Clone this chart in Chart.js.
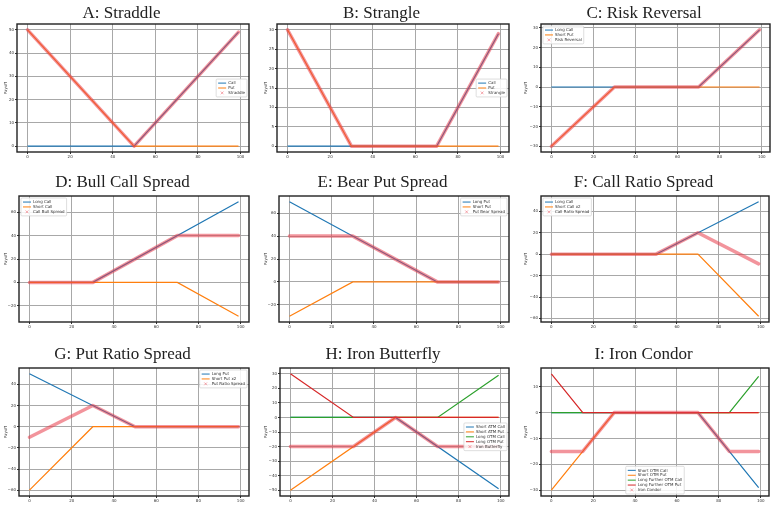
<!DOCTYPE html>
<html>
<head>
<meta charset="utf-8">
<script src="https://cdn.jsdelivr.net/npm/chart.js@4.4.1/dist/chart.umd.min.js"></script>
<style>
  html, body { margin: 0; padding: 0; background: #fff; }
  #page { position: relative; width: 780px; height: 516px; overflow: hidden; }
  #page canvas { position: absolute; }
</style>
</head>
<body>
<div id="page"></div>
<script>
/* Tick labels */
const xTicks = [0, 20, 40, 60, 80, 100];
const yTicksA = [0, 10, 20, 30, 40, 50];
const yTicksB = [0, 5, 10, 15, 20, 25, 30];
const yTicksC = [-30, -20, -10, 0, 10, 20, 30];
const yTicksD = [-20, 0, 20, 40, 60];
const yTicksE = [-20, 0, 20, 40, 60];
const yTicksF = [-60, -40, -20, 0, 20, 40];
const yTicksG = [-60, -40, -20, 0, 20, 40];
const yTicksH = [-50, -40, -30, -20, -10, 0, 10, 20, 30];
const yTicksI = [-30, -20, -10, 0, 10];

/* Payoff lines, as [price, payoff] breakpoints */
// A: Straddle
const callA = [[0, 0], [50, 0], [99, 49]];
const putA = [[0, 50], [50, 0], [99, 0]];
const straddleA = [[0, 50], [50, 0], [99, 49]];
// B: Strangle
const callB = [[0, 0], [70, 0], [99, 29]];
const putB = [[0, 30], [30, 0], [99, 0]];
const strangleB = [[0, 30], [30, 0], [70, 0], [99, 29]];
// C: Risk Reversal
const longCallC = [[0, 0], [70, 0], [99, 29]];
const shortPutC = [[0, -30], [30, 0], [99, 0]];
const riskRevC = [[0, -30], [30, 0], [70, 0], [99, 29]];
// D: Bull Call Spread
const longCallD = [[0, 0], [30, 0], [99, 69]];
const shortCallD = [[0, 0], [70, 0], [99, -29]];
const bullD = [[0, 0], [30, 0], [70, 40], [99, 40]];
// E: Bear Put Spread
const longPutE = [[0, 70], [70, 0], [99, 0]];
const shortPutE = [[0, -30], [30, 0], [99, 0]];
const bearE = [[0, 40], [30, 40], [70, 0], [99, 0]];
// F: Call Ratio Spread
const longCallF = [[0, 0], [50, 0], [99, 49]];
const shortCallF = [[0, 0], [70, 0], [99, -58]];
const ratioF = [[0, 0], [50, 0], [70, 20], [99, -9]];
// G: Put Ratio Spread
const longPutG = [[0, 50], [50, 0], [99, 0]];
const shortPutG = [[0, -60], [30, 0], [99, 0]];
const ratioG = [[0, -10], [30, 20], [50, 0], [99, 0]];
// H: Iron Butterfly
const shortCallH = [[0, 0], [50, 0], [99, -49]];
const shortPutH = [[0, -50], [50, 0], [99, 0]];
const longCallH = [[0, 0], [70, 0], [99, 29]];
const longPutH = [[0, 30], [30, 0], [99, 0]];
const butterflyH = [[0, -20], [30, -20], [50, 0], [70, -20], [99, -20]];
// I: Iron Condor
const shortCallI = [[0, 0], [70, 0], [99, -29]];
const shortPutI = [[0, -30], [30, 0], [99, 0]];
const longCallI = [[0, 0], [85, 0], [99, 14]];
const longPutI = [[0, 15], [15, 0], [99, 0]];
const condorI = [[0, -15], [15, -15], [30, 0], [70, 0], [85, -15], [99, -15]];

const BLU = '#1f77b4', ORA = '#ff7f0e', GRN = '#2ca02c', RED = '#d62728';
const COMBO = 'rgba(232, 60, 74, 0.55)';

// righe della griglia: posizione verticale di ogni riga di grafici
const righe = [
    { top: 0,   plotTop: 24,  plotBottom: 152, bottom: 165, baseline: 18.3 },
    { top: 165, plotTop: 196, plotBottom: 322, bottom: 335, baseline: 187.3 },
    { top: 338, plotTop: 368, plotBottom: 496, bottom: 509, baseline: 359 }
];

const pannelli = [
    { title: 'A: Straddle', row: 0, col: 0, left: 17, right: 249, yTicks: yTicksA, legend: [1, 0.5],
      lines: [['Call', callA, BLU], ['Put', putA, ORA]], combo: ['Straddle', straddleA] },
    { title: 'B: Strangle', row: 0, col: 1, left: 277, right: 509, yTicks: yTicksB, legend: [1, 0.5],
      lines: [['Call', callB, BLU], ['Put', putB, ORA]], combo: ['Strangle', strangleB] },
    { title: 'C: Risk Reversal', row: 0, col: 2, left: 541, right: 770, yTicks: yTicksC, legend: [0, 0],
      lines: [['Long Call', longCallC, BLU], ['Short Put', shortPutC, ORA]], combo: ['Risk Reversal', riskRevC] },
    { title: 'D: Bull Call Spread', row: 1, col: 0, left: 19, right: 249, yTicks: yTicksD, legend: [0, 0],
      lines: [['Long Call', longCallD, BLU], ['Short Call', shortCallD, ORA]], combo: ['Call Bull Spread', bullD] },
    { title: 'E: Bear Put Spread', row: 1, col: 1, left: 279, right: 509, yTicks: yTicksE, legend: [1, 0],
      lines: [['Long Put', longPutE, BLU], ['Short Put', shortPutE, ORA]], combo: ['Put Bear Spread', bearE] },
    { title: 'F: Call Ratio Spread', row: 1, col: 2, left: 541, right: 769, yTicks: yTicksF, legend: [0, 0],
      lines: [['Long Call', longCallF, BLU], ['Short Call x2', shortCallF, ORA]], combo: ['Call Ratio Spread', ratioF] },
    { title: 'G: Put Ratio Spread', row: 2, col: 0, left: 19, right: 249, yTicks: yTicksG, legend: [1, 0],
      lines: [['Long Put', longPutG, BLU], ['Short Put x2', shortPutG, ORA]], combo: ['Put Ratio Spread', ratioG] },
    { title: 'H: Iron Butterfly', row: 2, col: 1, left: 280, right: 509, yTicks: yTicksH, legend: [1, 0.55],
      lines: [['Short ATM Call', shortCallH, BLU], ['Short ATM Put', shortPutH, ORA],
              ['Long OTM Call', longCallH, GRN], ['Long OTM Put', longPutH, RED]], combo: ['Iron Butterfly', butterflyH] },
    { title: 'I: Iron Condor', row: 2, col: 2, left: 541, right: 769, yTicks: yTicksI, legend: [0.5, 1],
      lines: [['Short OTM Call', shortCallI, BLU], ['Short OTM Put', shortPutI, ORA],
              ['Long Further OTM Call', longCallI, GRN], ['Long Further OTM Put', longPutI, RED]], combo: ['Iron Condor', condorI] }
];

const fmtMeno = (v) => (v < 0 ? '\u2212' + Math.abs(v) : String(v));

// cornice nera attorno all'area del grafico + legenda stile matplotlib + titolo
const pluginCornice = {
    id: 'cornice',
    afterDatasetsDraw(chart, args, opts) {
        const { ctx, chartArea: a } = chart;
        ctx.save();
        ctx.strokeStyle = '#222';
        ctx.lineWidth = 1.4;
        ctx.strokeRect(a.left, a.top, a.right - a.left, a.bottom - a.top);

        // legenda
        const fs = 4, rowH = 4.9, padX = 2, padY = 1.6, handle = 8, gap = 2, axPad = 2;
        ctx.font = fs + 'px "DejaVu Sans"';
        const items = chart.data.datasets;
        const textW = Math.max(...items.map(d => ctx.measureText(d.label).width));
        const w = padX + handle + gap + textW + padX;
        const h = padY * 2 + rowH * items.length;
        const [fx, fy] = opts.loc;
        const x = a.left + axPad + fx * (a.right - a.left - 2 * axPad - w);
        const y = a.top + axPad + fy * (a.bottom - a.top - 2 * axPad - h);
        ctx.fillStyle = 'rgba(255,255,255,0.85)';
        ctx.strokeStyle = '#d0d0d0';
        ctx.lineWidth = 0.7;
        ctx.beginPath();
        ctx.roundRect(x, y, w, h, 1);
        ctx.fill();
        ctx.stroke();
        ctx.textBaseline = 'middle';
        ctx.textAlign = 'left';
        items.forEach((d, i) => {
            const cy = y + padY + rowH * (i + 0.5);
            const hx = x + padX;
            if (d.marker) {
                const cx = hx + handle / 2, r = 1.4;
                ctx.strokeStyle = COMBO;
                ctx.lineWidth = 0.8;
                ctx.beginPath();
                ctx.moveTo(cx - r, cy - r); ctx.lineTo(cx + r, cy + r);
                ctx.moveTo(cx - r, cy + r); ctx.lineTo(cx + r, cy - r);
                ctx.stroke();
            } else {
                ctx.strokeStyle = d.borderColor;
                ctx.lineWidth = 1;
                ctx.beginPath();
                ctx.moveTo(hx, cy); ctx.lineTo(hx + handle, cy);
                ctx.stroke();
            }
            ctx.fillStyle = '#333';
            ctx.fillText(d.label, hx + handle + gap, cy + 0.2);
        });
        ctx.restore();
    },
    afterDraw(chart, args, opts) {
        const { ctx, chartArea: a } = chart;
        ctx.save();
        ctx.font = '17px "Liberation Serif"';
        ctx.fillStyle = '#222';
        ctx.textAlign = 'center';
        ctx.textBaseline = 'alphabetic';
        ctx.fillText(opts.title, (a.left + a.right) / 2 - 11.5, opts.baseline);
        ctx.restore();
    }
};

const contenitore = document.getElementById('page');

pannelli.forEach(p => {
    const riga = righe[p.row];
    const cellLeft = p.col * 260;
    const larghezza = 260, altezza = riga.bottom - riga.top;

    const canvas = document.createElement('canvas');
    canvas.width = larghezza;
    canvas.height = altezza;
    canvas.style.left = cellLeft + 'px';
    canvas.style.top = riga.top + 'px';
    contenitore.appendChild(canvas);

    // limiti degli assi con il 5% di margine, come fa matplotlib
    const tutte = p.lines.map(l => l[1]).concat([p.combo[1]]);
    const xs = tutte.flat().map(q => q[0]);
    const ys = tutte.flat().map(q => q[1]);
    const xMin = Math.min(...xs), xMax = Math.max(...xs);
    const yMin = Math.min(...ys), yMax = Math.max(...ys);
    const mx = (xMax - xMin) * 0.05, my = (yMax - yMin) * 0.05;

    const n = p.lines.length + 1;
    const datasets = p.lines.map((l, i) => ({
        label: l[0],
        data: l[1].map(([x, y]) => ({ x, y })),
        borderColor: l[2],
        borderWidth: 1.2,
        pointRadius: 0,
        fill: false,
        tension: 0,
        order: n - i
    }));
    datasets.push({
        label: p.combo[0],
        data: p.combo[1].map(([x, y]) => ({ x, y })),
        borderColor: COMBO,
        borderWidth: 3.5,
        borderJoinStyle: 'round',
        borderCapStyle: 'round',
        pointRadius: 0,
        fill: false,
        tension: 0,
        marker: true,
        order: 0
    });

    const fontTick = { family: 'DejaVu Sans', size: 4 };
    new Chart(canvas.getContext('2d'), {
        type: 'line',
        data: { datasets },
        options: {
            responsive: false,
            animation: false,
            devicePixelRatio: 1,
            layout: {
                padding: {
                    top: riga.plotTop - riga.top,
                    left: 0,
                    right: cellLeft + larghezza - p.right,
                    bottom: 0
                }
            },
            scales: {
                x: {
                    type: 'linear',
                    min: xMin - mx,
                    max: xMax + mx,
                    afterBuildTicks: s => { s.ticks = xTicks.map(v => ({ value: v })); },
                    afterFit: s => { s.height = riga.bottom - riga.plotBottom; },
                    ticks: { font: fontTick, color: '#333', padding: 1, maxRotation: 0, autoSkip: false },
                    grid: { color: '#a8a8a8', lineWidth: 1, tickLength: 2, tickColor: '#333' },
                    border: { display: false }
                },
                y: {
                    type: 'linear',
                    min: yMin - my,
                    max: yMax + my,
                    afterBuildTicks: s => { s.ticks = p.yTicks.map(v => ({ value: v })); },
                    afterFit: s => { s.width = p.left - cellLeft; },
                    ticks: { font: fontTick, color: '#333', padding: 1, autoSkip: false, callback: v => fmtMeno(v) },
                    grid: { color: '#a8a8a8', lineWidth: 1, tickLength: 2, tickColor: '#333' },
                    border: { display: false },
                    title: { display: true, text: 'Payoff', font: fontTick, color: '#333', padding: { top: 4, bottom: 0 } }
                }
            },
            plugins: {
                legend: { display: false },
                tooltip: { enabled: false },
                title: { display: false },
                cornice: { loc: p.legend, title: p.title, baseline: riga.baseline - riga.top }
            }
        },
        plugins: [pluginCornice]
    });
});
</script>
</body>
</html>
